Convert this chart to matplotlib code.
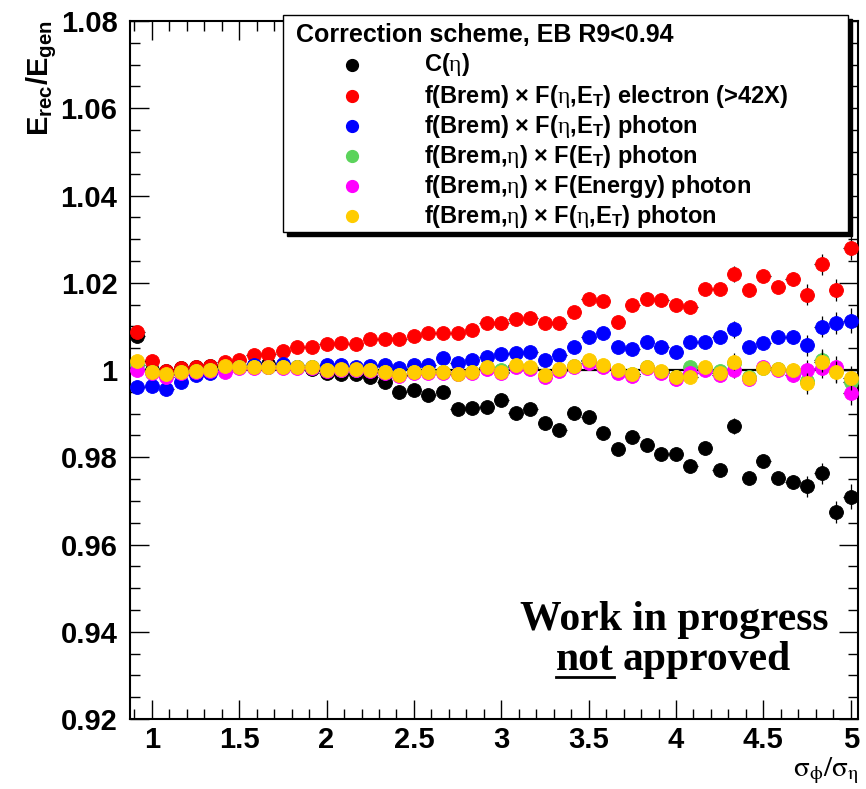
import matplotlib
matplotlib.use("Agg")
import matplotlib.pyplot as plt
from matplotlib.lines import Line2D
from matplotlib.patches import Rectangle
from matplotlib.ticker import MultipleLocator

plt.rcParams["font.family"] = ["Liberation Sans", "DejaVu Sans"]
plt.rcParams["mathtext.fontset"] = "custom"
plt.rcParams["mathtext.rm"] = "Liberation Sans:bold"
plt.rcParams["mathtext.bf"] = "Liberation Sans:bold"
plt.rcParams["mathtext.it"] = "Liberation Serif"   # greek letters in a serif face, like ROOT
plt.rcParams["mathtext.default"] = "it"

# bin centres of sigma_phi / sigma_eta (bin width 1/12)
x = [0.917, 1.000, 1.083, 1.167, 1.250, 1.333, 1.417, 1.500, 1.583, 1.667,
     1.750, 1.833, 1.917, 2.000, 2.083, 2.167, 2.250, 2.333, 2.417, 2.500,
     2.583, 2.667, 2.750, 2.833, 2.917, 3.000, 3.083, 3.167, 3.250, 3.333,
     3.417, 3.500, 3.583, 3.667, 3.750, 3.833, 3.917, 4.000, 4.083, 4.167,
     4.250, 4.333, 4.417, 4.500, 4.583, 4.667, 4.750, 4.833, 4.917, 5.000]
x_half_width = 1 / 24

c_eta = [1.0078, 1.0000, 0.9998, 1.0004, 1.0008, 1.0010, 1.0008, 1.0008, 1.0011, 1.0014,
         1.0010, 1.0006, 1.0002, 0.9992, 0.9990, 0.9990, 0.9984, 0.9972, 0.9949, 0.9954,
         0.9943, 0.9949, 0.9911, 0.9914, 0.9916, 0.9931, 0.9902, 0.9911, 0.9879, 0.9863,
         0.9901, 0.9893, 0.9856, 0.9820, 0.9846, 0.9827, 0.9807, 0.9807, 0.9779, 0.9822,
         0.9771, 0.9872, 0.9752, 0.9792, 0.9752, 0.9744, 0.9733, 0.9763, 0.9674, 0.9710]
brem_electron = [1.0088, 1.0020, 0.9998, 1.0005, 1.0008, 1.0010, 1.0019, 1.0024, 1.0034, 1.0037,
                 1.0044, 1.0052, 1.0053, 1.0059, 1.0063, 1.0060, 1.0070, 1.0071, 1.0070, 1.0079,
                 1.0085, 1.0085, 1.0085, 1.0092, 1.0108, 1.0107, 1.0118, 1.0119, 1.0107, 1.0108,
                 1.0134, 1.0162, 1.0159, 1.0111, 1.0149, 1.0162, 1.0160, 1.0149, 1.0145, 1.0185,
                 1.0185, 1.0220, 1.0183, 1.0216, 1.0191, 1.0208, 1.0172, 1.0242, 1.0183, 1.0280]
brem_photon = [0.9960, 0.9963, 0.9956, 0.9972, 0.9988, 0.9994, 1.0008, 1.0008, 1.0011, 1.0008,
               1.0014, 1.0008, 1.0008, 1.0012, 1.0012, 1.0008, 1.0010, 1.0011, 1.0005, 1.0011,
               1.0011, 1.0028, 1.0017, 1.0023, 1.0029, 1.0036, 1.0040, 1.0041, 1.0023, 1.0034,
               1.0053, 1.0075, 1.0084, 1.0052, 1.0047, 1.0065, 1.0052, 1.0042, 1.0065, 1.0065,
               1.0075, 1.0093, 1.0053, 1.0061, 1.0076, 1.0076, 1.0057, 1.0099, 1.0107, 1.0113]
brem_eta_et = [1.0012, 0.9995, 0.9988, 0.9995, 0.9997, 1.0000, 1.0008, 1.0006, 1.0007, 1.0007,
               1.0007, 1.0007, 1.0007, 1.0000, 1.0001, 1.0001, 0.9999, 0.9995, 0.9988, 0.9995,
               0.9995, 0.9995, 0.9990, 0.9995, 1.0005, 1.0000, 1.0009, 1.0005, 0.9987, 1.0001,
               1.0009, 1.0020, 1.0010, 0.9998, 0.9990, 1.0006, 0.9996, 0.9984, 1.0008, 1.0004,
               0.9998, 1.0016, 0.9985, 1.0004, 1.0002, 0.9998, 0.9975, 1.0023, 0.9998, 0.9973]
brem_eta_energy = [1.0000, 0.9994, 0.9985, 0.9994, 0.9996, 0.9998, 0.9996, 1.0005, 1.0005, 1.0006,
                   1.0005, 1.0005, 1.0005, 0.9998, 1.0000, 1.0000, 0.9998, 0.9994, 0.9987, 0.9994,
                   0.9994, 0.9994, 0.9990, 0.9994, 1.0003, 0.9992, 1.0007, 1.0003, 0.9983, 0.9998,
                   1.0007, 1.0017, 1.0008, 0.9994, 0.9986, 1.0005, 0.9992, 0.9980, 0.9992, 1.0000,
                   0.9989, 1.0000, 0.9979, 1.0008, 1.0000, 0.9989, 1.0000, 1.0005, 1.0008, 0.9947]
brem_eta_eta_et = [1.0020, 0.9996, 0.9990, 0.9996, 0.9998, 1.0000, 1.0010, 1.0008, 1.0008, 1.0008,
                   1.0008, 1.0008, 1.0008, 1.0000, 1.0002, 1.0002, 1.0000, 0.9996, 0.9989, 0.9996,
                   0.9996, 0.9996, 0.9991, 0.9996, 1.0006, 0.9996, 1.0011, 1.0006, 0.9989, 1.0002,
                   1.0010, 1.0023, 1.0011, 1.0000, 0.9991, 1.0008, 0.9998, 0.9985, 0.9983, 1.0008,
                   0.9994, 1.0019, 0.9981, 1.0004, 1.0003, 1.0000, 0.9970, 1.0019, 0.9996, 0.9982]
# statistical uncertainty per bin (roughly common to all schemes)
y_err = [0.0004, 0.0004, 0.0004, 0.0004, 0.0004, 0.0004, 0.0004, 0.0004, 0.0004, 0.0004,
         0.0004, 0.0004, 0.0004, 0.0004, 0.0004, 0.0004, 0.0005, 0.0005, 0.0005, 0.0005,
         0.0005, 0.0005, 0.0005, 0.0005, 0.0005, 0.0005, 0.0007, 0.0007, 0.0007, 0.0007,
         0.0007, 0.0007, 0.0007, 0.0007, 0.0010, 0.0010, 0.0010, 0.0010, 0.0010, 0.0010,
         0.0011, 0.0019, 0.0012, 0.0013, 0.0014, 0.0016, 0.0024, 0.0024, 0.0025, 0.0028]

series = [
    (c_eta, "black", r"C($\eta$)"),
    (brem_electron, "#ff0000", r"f(Brem) $\times$ F($\eta$,E$_\mathbf{T}$) electron (>42X)"),
    (brem_photon, "#0000ff", r"f(Brem) $\times$ F($\eta$,E$_\mathbf{T}$) photon"),
    (brem_eta_et, "#5bd35b", r"f(Brem,$\eta$) $\times$ F(E$_\mathbf{T}$) photon"),
    (brem_eta_energy, "#ff00ff", r"f(Brem,$\eta$) $\times$ F(Energy) photon"),
    (brem_eta_eta_et, "#ffcc00", r"f(Brem,$\eta$) $\times$ F($\eta$,E$_\mathbf{T}$) photon"),
]

y_ticks = [0.92, 0.94, 0.96, 0.98, 1.00, 1.02, 1.04, 1.06, 1.08]
y_tick_labels = ["0.92", "0.94", "0.96", "0.98", "1", "1.02", "1.04", "1.06", "1.08"]
x_ticks = [1, 1.5, 2, 2.5, 3, 3.5, 4, 4.5, 5]
x_tick_labels = ["1", "1.5", "2", "2.5", "3", "3.5", "4", "4.5", "5"]

W, H = 866, 789


def fx(px):
    return px / W


def fy(py):
    return 1 - py / H


fig = plt.figure(figsize=(W / 100, H / 100), dpi=100)
ax = fig.add_axes([fx(130), fy(719), fx(858) - fx(130), fy(21) - fy(719)])

for k, (vals, col, _) in enumerate(series):
    ax.errorbar(x, vals, xerr=x_half_width, yerr=y_err, fmt="o", ms=10,
                color=col, mec=col, mew=0.6, ecolor="black", elinewidth=0.9,
                capsize=0, zorder=3 + k)

ax.axhline(1.0, color="black", lw=1.6, zorder=2.5)

ax.set_xlim(0.875, 5.0417)
ax.set_ylim(0.92, 1.08)
ax.set_xticks(x_ticks, x_tick_labels)
ax.set_yticks(y_ticks, y_tick_labels)
ax.xaxis.set_minor_locator(MultipleLocator(0.1))
ax.yaxis.set_minor_locator(MultipleLocator(0.005))
ax.tick_params(which="both", direction="in", top=True, right=True, width=1.0)
ax.tick_params(which="major", length=14, labelsize=21, pad=9)
ax.tick_params(axis="x", which="major", pad=5)
ax.tick_params(which="minor", length=7)
for lab in ax.get_xticklabels() + ax.get_yticklabels():
    lab.set_fontweight("bold")
for sp in ax.spines.values():
    sp.set_linewidth(1.5)

# axis titles, ROOT style
fig.text(fx(859), fy(786), r"$\mathrm{\sigma_{\phi}/\sigma_{\eta}}$", ha="right", va="bottom",
         fontsize=21, math_fontfamily="stix")
fig.text(fx(42), fy(20), r"$\mathbf{E_{rec}/E_{gen}}$", rotation=90, ha="center",
         va="top", fontsize=21)

# legend box with shadow
fig.add_artist(Rectangle((fx(287), fy(236)), fx(852) - fx(287), fy(19) - fy(236),
                         transform=fig.transFigure, facecolor="black", edgecolor="black",
                         zorder=10))
fig.add_artist(Rectangle((fx(283), fy(232)), fx(848) - fx(283), fy(15) - fy(232),
                         transform=fig.transFigure, facecolor="white", edgecolor="black",
                         lw=1.0, zorder=11))
fig.text(fx(296), fy(35), "Correction scheme, EB R9<0.94", ha="left", va="center",
         fontsize=18, fontweight="bold", zorder=12)
row_y = [65, 96, 126, 156, 186, 216]
for (vals, col, label), ry in zip(series, row_y):
    fig.add_artist(Line2D([fx(352)], [fy(ry)], marker="o", ms=8.5, color=col,
                          transform=fig.transFigure, zorder=12))
    fig.text(fx(424), fy(ry), label, ha="left", va="center", fontsize=17,
             fontweight="bold", zorder=12)

# watermark
serif = ["Liberation Serif", "DejaVu Serif"]
fig.text(fx(520), fy(630), "Work in progress", ha="left", va="baseline", fontsize=30,
         fontweight="bold", family=serif)
t_not = fig.text(fx(556), fy(670), "not", ha="left", va="baseline", fontsize=30,
                 fontweight="bold", family=serif)
fig.canvas.draw()
bb = t_not.get_window_extent()
fig.text(bb.x1 / W + fx(9), fy(670), "approved", ha="left", va="baseline", fontsize=30,
         fontweight="bold", family=serif)
fig.add_artist(Line2D([bb.x0 / W, bb.x1 / W], [fy(677), fy(677)], color="black", lw=2,
                      transform=fig.transFigure))

fig.savefig("out.png", dpi=100)
